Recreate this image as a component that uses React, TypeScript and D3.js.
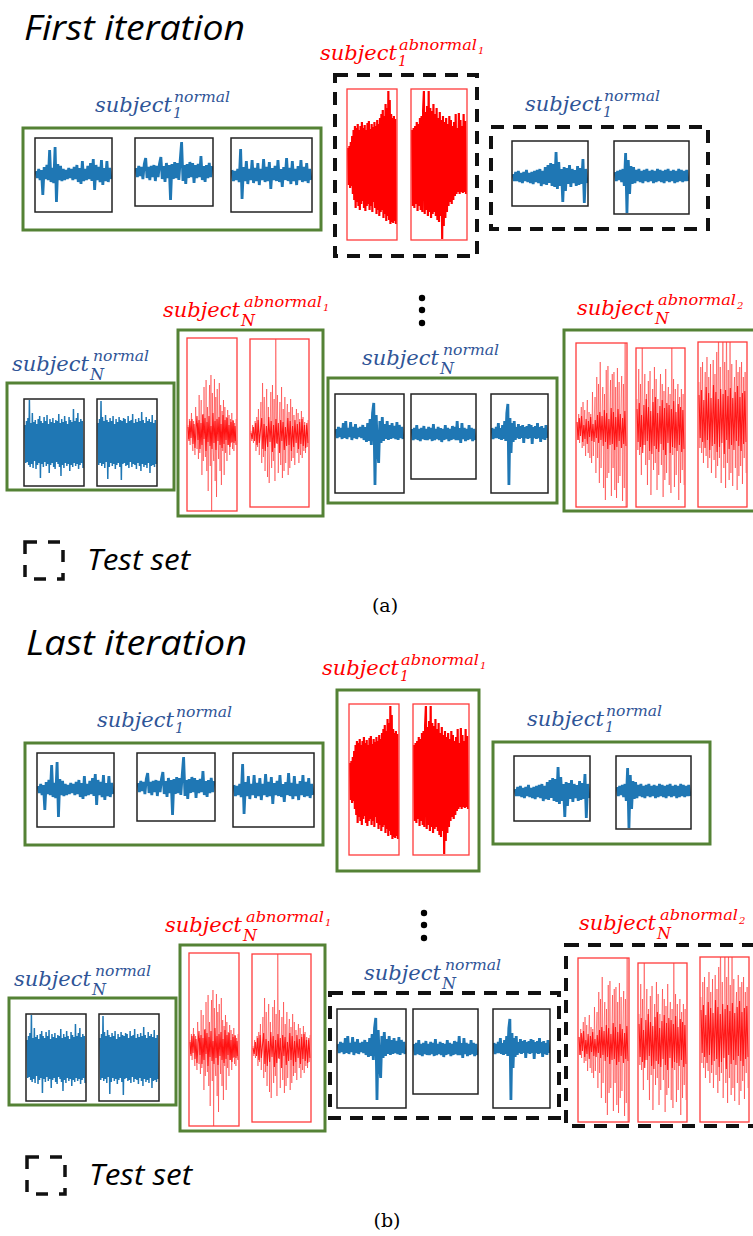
import React from "react";
import * as d3 from "d3";

// ---------- waveform samples (+ = upward, px units) ----------
const N1a = [3,-4,5,-6,4,-21,7,-5,9,-6,24,-8,6,-9,27,-28,10,-6,8,-7,5,-6,4,-5,6,-4,5,-6,7,-5,9,-8,6,-10,13,-7,5,-6,8,-5,11,-7,15,-16,9,-6,7,-8,14,-11,6,-7,13,-8,6,-5];
const N1b = [4,-5,6,-4,5,-7,8,14,-6,5,-8,6,-5,7,-9,6,-5,8,15,-7,6,-10,9,-6,7,-28,8,-7,10,-6,9,-8,12,30,-9,7,-12,8,-6,10,-5,9,-11,7,-6,8,-5,16,-8,6,-10,7,-6,9,-5,6];
const N1c = [5,-6,4,-5,6,-7,26,-24,8,-6,14,-9,6,-5,15,-8,7,-6,12,-10,6,-5,16,-7,8,-6,13,-14,7,-5,9,-6,15,-7,6,-12,8,-5,17,-6,7,-9,14,-6,6,-10,9,-5,15,-7,8,-6,12,-8,6,-5];
const T1a = [3,-4,5,-4,6,-5,4,-6,5,-4,7,-5,4,-6,5,-7,6,-5,7,-6,8,-9,6,-7,10,-8,12,-6,14,-9,13,-10,25,-12,15,-9,8,-25,10,-14,9,-7,12,-10,8,-6,7,-9,11,-8,9,-7,18,-26,8,-6];
const T1b = [4,-5,5,-4,6,-6,7,-10,23,-37,16,-18,10,-8,9,-7,6,-5,7,-6,5,-7,6,-5,7,-6,5,-5,6,-7,5,-6,7,-5,6,-6,5,-7,6,-5,7,-6,5,-5,6,-7,5,-6,7,-5,6,-6,5,-5,6,-5];
const A1a = [18,-19,20,-22,24,-20,30,-28,36,-34,40,-42,38,-36,42,-40,36,-44,40,-38,44,-35,38,-42,41,-45,36,-40,43,-38,45,-44,37,-40,42,-46,39,-36,44,-42,40,-48,46,-44,42,-50,48,-46,52,-44,56,-52,50,-48,62,-55,58,-50,75,-54,66,-58,52,-56,48,-57,50,-55,47,-58];
const A1b = [36,-40,38,-42,40,-38,44,-45,42,-40,48,-44,50,-46,56,75,-48,54,-44,60,-50,75,-46,58,-52,55,-48,62,-46,52,-50,58,-54,48,-56,54,-50,46,-73,50,-60,44,-52,48,-46,42,-40,50,-36,46,-38,40,-34,44,-30,52,-28,38,-26,53,-28,46,-26,40,-27,52,-26,45,-28];
const NNa = [18,-20,22,-19,25,-22,43,-24,20,-21,30,-25,21,-18,23,-26,19,-22,24,-20,27,-35,22,-21,20,-24,26,-19,22,-23,28,-21,19,-30,24,-22,21,-20,25,-24,20,-26,23,-19,22,-21,29,-24,20,-33,24,-22,21,-25,27,-20,22,-23,19,-21,26,-28,23,-22,21,-24,34,-20,22,-23,25,-21,30,-26,21,-22,24,-20,22,-25];
const NNb = [20,-22,24,-20,42,-23,26,-21,22,-25,28,-19,23,-36,21,-24,25,-20,22,-23,27,-21,19,-26,24,-22,21,-20,26,-24,23,-37,22,-21,25,-20,24,-23,20,-22,27,-25,22,-19,23,-24,29,-21,20,-22,24,-26,21,-20,25,-23,22,-28,31,-21,23,-24,20,-22,26,-25,22,-20,24,-30,21,-23,28,-22,20,-24,23,-21];
const ANa = [8,-6,14,-12,4,20,-10,-18,12,-2,-22,26,4,-16,10,-26,38,-20,6,33,-42,18,-28,46,-8,-24,53,-38,26,-58,12,48,-33,58,-78,40,-14,-28,54,-48,36,-64,44,2,-26,50,-38,28,-52,22,-18,33,-42,26,-20,16,-28,23,-12,18,-22,14,-10,20,-16,12,-18,10,-8,14];
const ANaCore = [6,-8,12,-5,14,-11,9,-15,4,17,-7,13,-16,10,-12,19,-6,15,-18,11,-9,17,-13,7,-16,20,-10,12,-17,14,-8,16,-12,9,-15,18,-11,13,-7,15,-12,8,-14,11,-9,13,-10,7,-12];
const ANb = [4,-6,10,-8,2,14,-16,18,-12,26,-20,6,33,-28,52,-22,38,-36,10,46,-42,28,-48,-5,43,-33,50,-26,36,-46,100,-8,40,-38,4,33,-30,48,-43,26,-36,38,-28,12,31,-40,23,-33,36,-26,28,-23,20,-30,8,26,-18,22,-28,16,-20,24,-23,18,-16,13,-18,10,-12,15];
const ANbCore = [2,-4,8,-6,12,-10,15,-8,5,17,-14,11,-16,9,-12,18,-7,14,-17,10,-13,16,-9,12,-18,15,-6,13,-15,8,-11,17,-10,14,-16,9,-12,15,-8,11,-14,13,-9,16,-11,10,-13,12,-8];
const NN2a = [4,-5,6,-4,5,-6,10,-5,12,-6,5,-4,11,-7,6,-5,9,-6,5,-4,6,-5,8,-7,6,-9,10,-8,14,-12,20,30,-52,18,-15,-30,12,-10,16,-8,9,-6,12,-7,8,-6,10,-5,7,-6,11,-7,8,-5,6,-6];
const NN2b = [5,-6,6,-5,9,-6,5,-7,6,-5,8,-6,5,-6,7,-5,6,-7,10,-6,5,-5,7,-6,6,-8,5,-6,9,-5,6,-7,5,-6,8,-5,7,-6,13,-6,6,-9,11,-5,6,-7,5,-6,9,-5,6,-7,5,-6];
const NN2c = [5,-6,4,-5,6,-5,10,-6,5,-7,8,-6,12,-8,20,29,-52,15,-20,10,-9,12,-7,6,-5,9,-6,7,-5,8,-10,6,-5,7,-6,9,-5,8,-11,6,-5,7,-6,10,-5,6,-9,7,-6,5,-7,8,-5];
const AN2a = [8,-10,16,-13,4,23,-18,28,-16,20,-26,6,30,-23,18,-28,16,-33,38,-26,10,33,-43,53,-28,46,-53,68,-38,12,43,-58,36,-70,60,-48,64,-43,8,50,-66,56,-38,58,-60,43,-68,62,-53,48,-46,20,54,-71,46,-58,100,-100];
const AN2aCore = [8,-10,12,-6,14,-12,5,-9,11,-14,9,-7,13,-11,6,-12,10,-8,15,-13,18,-10,14,-16,20,-12,17,-19,11,-15,22,-14,18,-20,13,-17,21,-11,16,-18,12,-14,19,-16];
const AN2b = [28,-23,58,-28,43,-48,100,-18,10,53,-38,33,-58,46,-33,56,-68,-5,38,-43,60,-36,48,-63,28,-48,8,53,-38,43,-70,36,-53,58,-46,15,40,-58,33,-66,100,-28,48,-60,38,-48,5,43,-73,30,-56,38,-43,33,-58];
const AN2bCore = [18,-15,24,-20,12,-26,22,-18,28,-14,20,-24,16,-27,25,-19,30,-22,14,-25,21,-17,27,-23,19,-28,24,-16,22,-26,18,-20,26,-21,15,-24,23,-18,20,-25,17,-22];
const AN2c = [38,-28,53,-33,58,-43,10,48,-36,63,-48,43,-38,56,-53,-8,60,-40,46,-58,68,-46,100,-38,53,-63,12,100,-48,58,-68,100,-43,50,-60,100,-53,56,-66,20,43,-48,60,-70,48,-56,53,-46,58,-64,43,-38,48,-53];
const AN2cCore = [25,-18,30,-22,20,-28,33,-20,27,-30,22,-26,35,-24,28,-32,21,-27,31,-23,26,-34,30,-20,24,-29,32,-25,22,-30,28,-21,34,-26,23,-31,27,-24,29,-22];

// ---------- text ----------
const TITLES = ["First iteration", "Last iteration"];
const CAPTIONS = ["(a)", "(b)"];
const LEGEND_TEXT = "Test set";
// which groups are test set in each panel
const TEST_A = ["g2", "g3"];
const TEST_B = ["g6", "g7"];

const BLUE = "#1f77b4";
const LBLUE = "#2f5597";
const RED = "#ff0000";
const GREEN = "#548235";

type Inner = { x: number; y: number; w: number; h: number; cy: number; wave: number[]; core?: number[] };
type Group = {
  id: string; x: number; y: number; w: number; h: number;
  kind: "blue" | "blueDense" | "redFill" | "redThin";
  label: { x: number; y: number; red: boolean; sub: string; sup: string; supSub?: string };
  inner: Inner[];
};

const GROUPS: Group[] = [
  { id: "g1", x: 23, y: 128, w: 298, h: 102, kind: "blue",
    label: { x: 95, y: 112, red: false, sub: "1", sup: "normal" },
    inner: [
      { x: 35, y: 138, w: 77, h: 74, cy: 174, wave: N1a },
      { x: 135, y: 138, w: 78, h: 68, cy: 172, wave: N1b },
      { x: 231, y: 138, w: 81, h: 74, cy: 175, wave: N1c },
    ] },
  { id: "g2", x: 335, y: 75, w: 142, h: 181, kind: "redFill",
    label: { x: 320, y: 60, red: true, sub: "1", sup: "abnormal", supSub: "1" },
    inner: [
      { x: 347, y: 89, w: 50, h: 151, cy: 166, wave: A1a },
      { x: 411, y: 89, w: 56, h: 151, cy: 166, wave: A1b },
    ] },
  { id: "g3", x: 491, y: 127, w: 217, h: 102, kind: "blue",
    label: { x: 525, y: 111, red: false, sub: "1", sup: "normal" },
    inner: [
      { x: 512, y: 141, w: 76, h: 65, cy: 177, wave: T1a },
      { x: 614, y: 141, w: 75, h: 73, cy: 176, wave: T1b },
    ] },
  { id: "g4", x: 7, y: 383, w: 167, h: 107, kind: "blueDense",
    label: { x: 12, y: 371, red: false, sub: "N", sup: "normal" },
    inner: [
      { x: 24, y: 399, w: 60, h: 87, cy: 443, wave: NNa },
      { x: 97, y: 399, w: 60, h: 87, cy: 443, wave: NNb },
    ] },
  { id: "g5", x: 178, y: 330, w: 145, h: 186, kind: "redThin",
    label: { x: 163, y: 317, red: true, sub: "N", sup: "abnormal", supSub: "1" },
    inner: [
      { x: 187, y: 338, w: 50, h: 173, cy: 433, wave: ANa, core: ANaCore },
      { x: 250, y: 339, w: 59, h: 168, cy: 435, wave: ANb, core: ANbCore },
    ] },
  { id: "g6", x: 328, y: 378, w: 229, h: 125, kind: "blue",
    label: { x: 362, y: 365, red: false, sub: "N", sup: "normal" },
    inner: [
      { x: 335, y: 394, w: 69, h: 99, cy: 433, wave: NN2a },
      { x: 411, y: 394, w: 65, h: 85, cy: 434, wave: NN2b },
      { x: 491, y: 394, w: 57, h: 99, cy: 433, wave: NN2c },
    ] },
  { id: "g7", x: 564, y: 330, w: 194, h: 181, kind: "redThin",
    label: { x: 577, y: 315, red: true, sub: "N", sup: "abnormal", supSub: "2" },
    inner: [
      { x: 576, y: 343, w: 51, h: 164, cy: 430, wave: AN2a, core: AN2aCore },
      { x: 636, y: 348, w: 49, h: 159, cy: 427, wave: AN2b, core: AN2bCore },
      { x: 698, y: 342, w: 49, h: 165, cy: 420, wave: AN2c, core: AN2cCore },
    ] },
];

const DOTS_Y = [298, 310, 323];

function Label({ x, y, red, sub, sup, supSub }: Group["label"]) {
  const w = 77;
  const supW = sup === "normal" ? 56 : 78;
  const isN = sub === "N";
  const supX = x + w + (isN ? 4 : 2);
  return (
    <g fill={red ? RED : LBLUE} fontFamily="'DejaVu Serif', serif" fontStyle="italic">
      <text x={x} y={y} fontSize={21} textLength={w} lengthAdjust="spacingAndGlyphs">subject</text>
      <text x={x + w + 1} y={y + (isN ? 9 : 6)} fontSize={isN ? 16 : 14}>{sub}</text>
      <text x={supX} y={y - 10} fontSize={15.5} textLength={supW} lengthAdjust="spacingAndGlyphs">{sup}</text>
      {supSub && <text x={supX + supW + 1} y={y - 6} fontSize={10}>{supSub}</text>}
    </g>
  );
}

function Signal({ box, kind, cid }: { box: Inner; kind: Group["kind"]; cid: string }) {
  const ys = d3.scaleLinear().domain([-100, 100]).range([box.cy + 100, box.cy - 100]);
  const mkLine = (arr: number[]) => {
    const xs = d3.scaleLinear().domain([0, arr.length - 1]).range([box.x + 1, box.x + box.w - 1]);
    return d3.line<number>().x((_, i) => xs(i)).y((d) => ys(d))(arr) || "";
  };
  const isRed = kind === "redFill" || kind === "redThin";
  let stroke = BLUE, sw = 2.8, op = 1;
  if (kind === "blueDense") { sw = 1.5; }
  if (kind === "redFill") { stroke = RED; sw = 2.2; }
  if (kind === "redThin") { stroke = RED; sw = 1; op = 0.42; }
  return (
    <g>
      <clipPath id={cid}>
        <rect x={box.x} y={box.y} width={box.w} height={box.h} />
      </clipPath>
      <g clipPath={`url(#${cid})`}>
        <path d={mkLine(box.wave)} fill="none" stroke={stroke} strokeWidth={sw} strokeOpacity={op} />
        {box.core && (
          <path d={mkLine(box.core)} fill="none" stroke={RED} strokeWidth={1.1} strokeOpacity={0.85} />
        )}
      </g>
      <rect x={box.x} y={box.y} width={box.w} height={box.h} fill="none"
        stroke={isRed ? "#ff3b3b" : "#222"} strokeWidth={isRed ? 1.3 : 1.5} />
    </g>
  );
}

function Panel({ idx, dx, dy, test }: { idx: number; dx: number; dy: number; test: string[] }) {
  return (
    <g transform={`translate(${dx},${dy})`}>
      <text x={24} y={40} fontFamily="'Open Sans', sans-serif" fontStyle="italic" fontSize={35}
        textLength={221} lengthAdjust="spacingAndGlyphs" fill="#000">{TITLES[idx]}</text>
      {GROUPS.map((g) => {
        const dashed = test.includes(g.id);
        return (
          <g key={g.id}>
            <Label {...g.label} />
            <rect x={g.x} y={g.y} width={g.w} height={g.h} fill="none"
              stroke={dashed ? "#111" : GREEN} strokeWidth={dashed ? 4 : 3}
              strokeDasharray={dashed ? "13 9" : undefined} />
            {g.inner.map((b, i) => (
              <Signal key={i} box={b} kind={g.kind} cid={`c${idx}${g.id}${i}`} />
            ))}
          </g>
        );
      })}
      {DOTS_Y.map((y, i) => <circle key={i} cx={422} cy={y} r={3.2} fill="#000" />)}
      <rect x={25} y={542} width={38} height={37} fill="none" stroke="#111" strokeWidth={3.5} strokeDasharray="12 11" />
      <text x={87} y={570} fontFamily="'Open Sans', sans-serif" fontStyle="italic" fontSize={29}
        textLength={103} lengthAdjust="spacingAndGlyphs" fill="#000">{LEGEND_TEXT}</text>
      <text x={385} y={612} fontFamily="'DejaVu Serif', serif" fontSize={19} textAnchor="middle" fill="#000">{CAPTIONS[idx]}</text>
    </g>
  );
}

export default function App() {
  return (
    <div style={{ position: "absolute", left: 0, top: 0 }}>
      <svg width={753} height={1236} viewBox="0 0 753 1236" style={{ display: "block", background: "#fff" }}>
        <Panel idx={0} dx={0} dy={0} test={TEST_A} />
        <Panel idx={1} dx={2} dy={615} test={TEST_B} />
      </svg>
    </div>
  );
}
